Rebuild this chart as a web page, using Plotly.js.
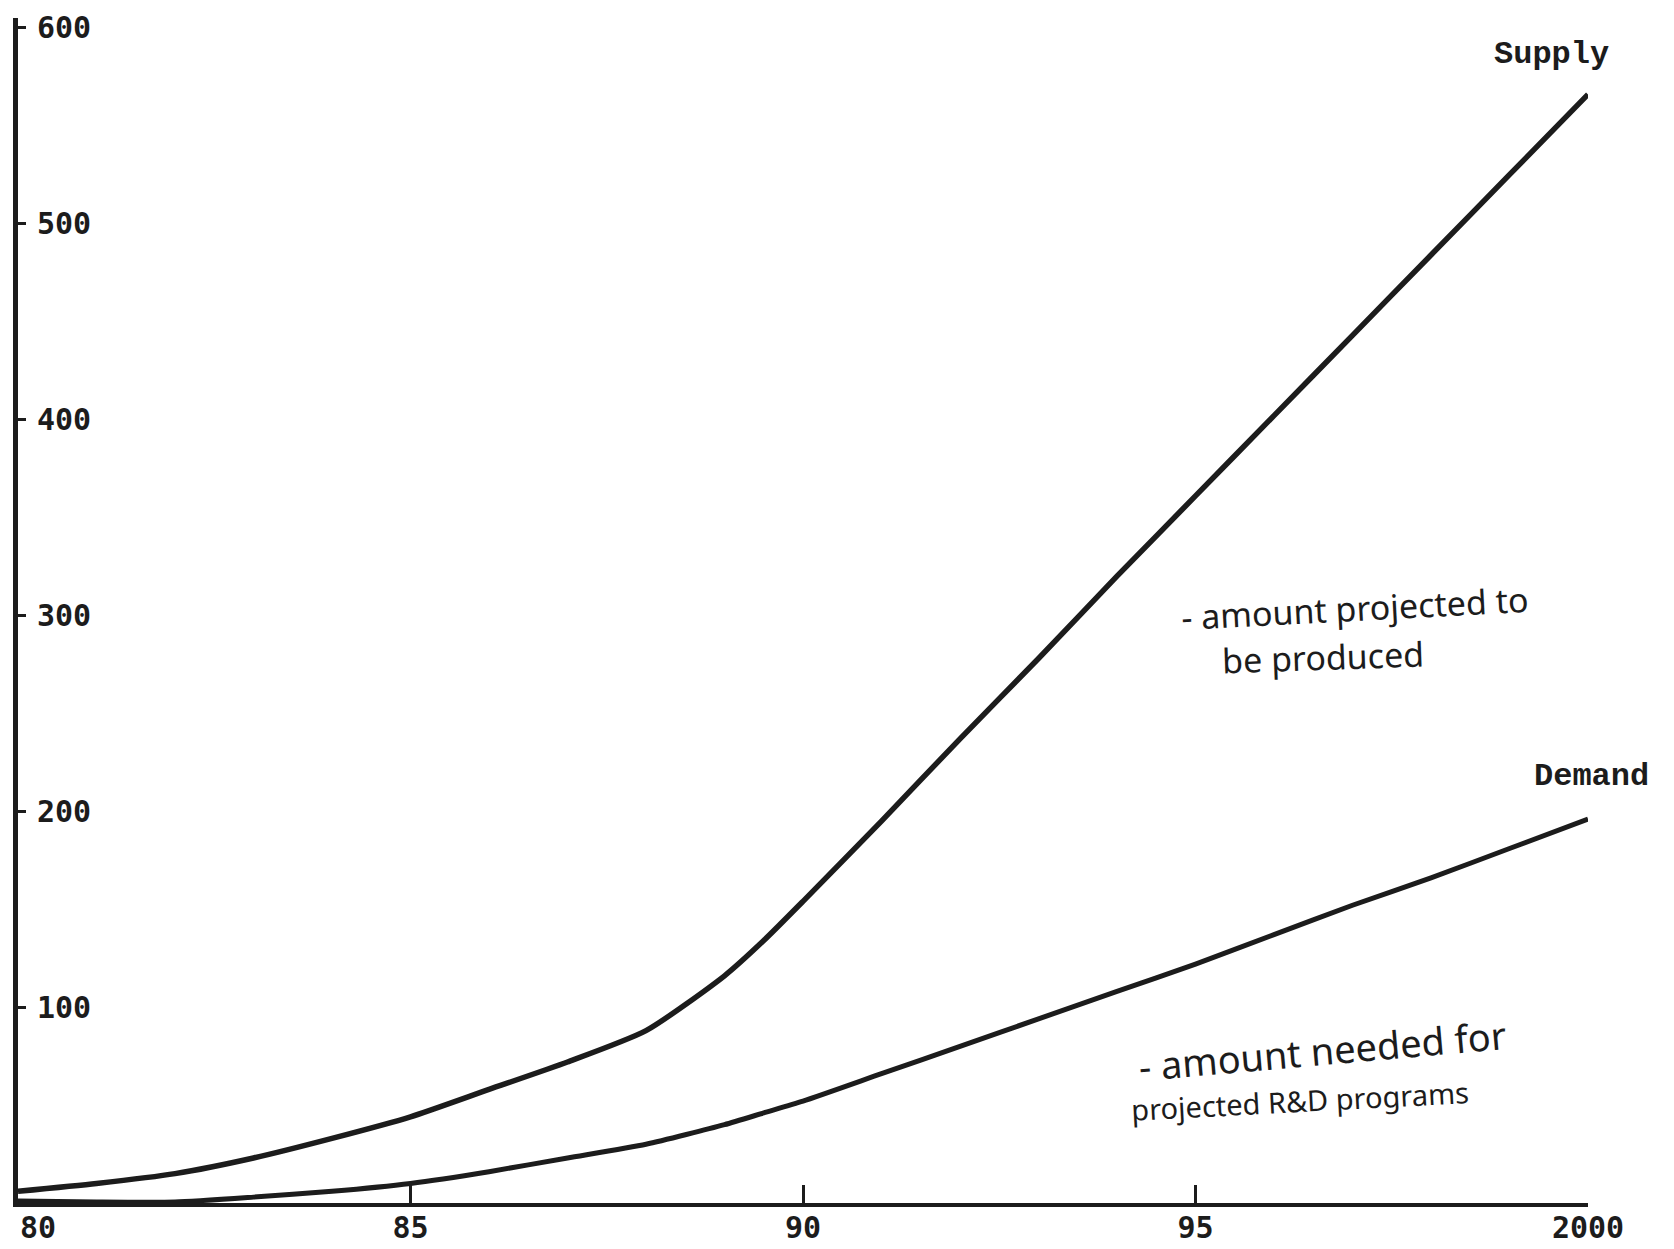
<!DOCTYPE html>
<html>
<head>
<meta charset="utf-8">
<script src="https://cdn.plot.ly/plotly-3.0.1.min.js"></script>
<style>
  html, body { margin: 0; padding: 0; background: #ffffff; }
  #chart { width: 1674px; height: 1249px; }
</style>
</head>
<body>
<div id="chart"></div>
<script>
// Years (80 .. 2000, plotted as 80 .. 100)
const years = [80, 81, 82, 83, 84, 85, 86, 87, 88, 89, 89.5, 90, 91, 92, 93, 94, 95, 96, 97, 98, 99, 100];
// Supply: amount projected to be produced
const supply = [6, 10, 15, 23, 33, 44, 58, 72, 88, 116, 134, 154, 195, 237, 278, 320, 361, 402, 443, 484, 525, 566];
// Demand: amount needed for projected R&D programs
const demand = [1, 0.5, 0.5, 3, 6, 10, 16, 23, 30, 40, 46, 52, 66, 80, 94, 108, 122, 137, 152, 166, 181, 196];

const xTickVals = [80, 85, 90, 95, 100];
const xTickText = ["80", "85", "90", "95", "2000"];
const yTickVals = [100, 200, 300, 400, 500, 600];
const yTickText = ["100", "200", "300", "400", "500", "600"];

const ink = "#1c1c1c";

const traces = [
  {
    x: years, y: supply, name: "Supply", type: "scatter", mode: "lines",
    line: { color: ink, width: 5.5, shape: "spline", smoothing: 0.6 },
    hoverinfo: "skip"
  },
  {
    x: years, y: demand, name: "Demand", type: "scatter", mode: "lines",
    line: { color: ink, width: 5, shape: "spline", smoothing: 0.6 },
    hoverinfo: "skip"
  }
];

const tickFont = { family: "DejaVu Sans Mono", size: 30, color: ink, weight: "bold" };
const typeFont = { family: "Liberation Mono", size: 32, color: ink, weight: "bold" };
const handFont = { family: "Noto Sans", size: 34, color: ink };

// The first x tick (80) sits on the corner of the axes; its label is drawn
// just to the right of the corner, as in the original.
const cornerLabel = {
  x: 0, y: 0, xref: "paper", yref: "paper",
  xanchor: "left", yanchor: "top", yshift: -5, xshift: 0,
  text: xTickText[0], showarrow: false, font: tickFont
};

const layout = {
  width: 1674, height: 1249,
  margin: { l: 18, r: 86, t: 18, b: 46 },
  paper_bgcolor: "#ffffff", plot_bgcolor: "#ffffff",
  showlegend: false,
  xaxis: {
    range: [80, 100],
    showgrid: false, zeroline: false,
    showline: true, linecolor: ink, linewidth: 4,
    tickmode: "array", tickvals: xTickVals.slice(1), ticktext: xTickText.slice(1),
    ticks: "inside", ticklen: 18, tickwidth: 3, tickcolor: ink,
    ticklabeloverflow: "allow", ticklabelstandoff: -5,
    tickfont: tickFont
  },
  yaxis: {
    range: [0, 605],
    showgrid: false, zeroline: false,
    showline: true, linecolor: ink, linewidth: 5,
    tickmode: "array", tickvals: yTickVals, ticktext: yTickText,
    ticks: "inside", ticklen: 8, tickwidth: 3, tickcolor: ink,
    ticklabelposition: "inside", ticklabelstandoff: 14,
    ticklabeloverflow: "allow",
    tickfont: tickFont
  },
  annotations: [
    cornerLabel,
    { x: 0.977, y: 0.9696, xref: "paper", yref: "paper", xanchor: "center", yanchor: "middle", text: "Supply", showarrow: false, font: typeFont },
    { x: 1.0025, y: 0.3595, xref: "paper", yref: "paper", xanchor: "center", yanchor: "middle", text: "Demand", showarrow: false, font: typeFont },
    { x: 0.8516, y: 0.5021, xref: "paper", yref: "paper", xanchor: "center", yanchor: "middle", text: "- amount projected to", showarrow: false, font: handFont, textangle: -3 },
    { x: 0.8312, y: 0.4608, xref: "paper", yref: "paper", xanchor: "center", yanchor: "middle", text: "be produced", showarrow: false, font: handFont, textangle: -2 },
    { x: 0.8312, y: 0.1291, xref: "paper", yref: "paper", xanchor: "center", yanchor: "middle", text: "- amount needed for", showarrow: false, font: { family: "Noto Sans", size: 38, color: ink }, textangle: -5 },
    { x: 0.8166, y: 0.0869, xref: "paper", yref: "paper", xanchor: "center", yanchor: "middle", text: "projected R&D programs", showarrow: false, font: { family: "Noto Sans", size: 29, color: ink }, textangle: -3 }
  ]
};

Plotly.newPlot("chart", traces, layout, { displayModeBar: false, staticPlot: true });
</script>
</body>
</html>
